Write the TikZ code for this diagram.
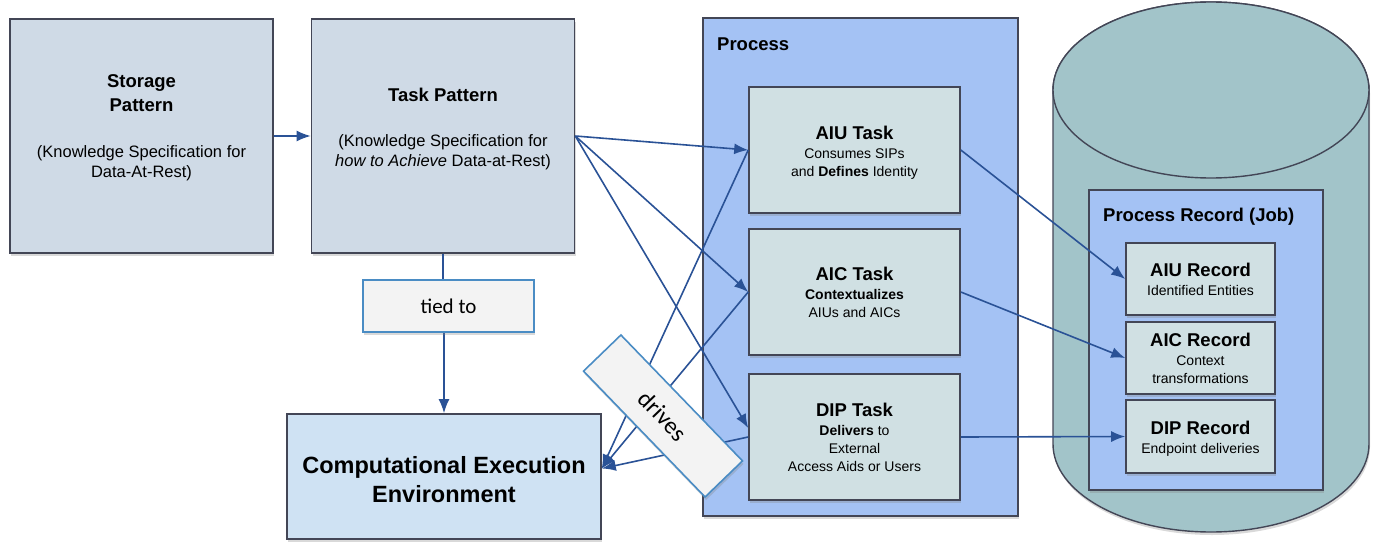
\documentclass[tikz,border=0pt]{standalone}
\usepackage{fontspec}
\setmainfont{Liberation Sans}
\newfontfamily\calfont{Carlito}
\usetikzlibrary{arrows.meta,shadows}

\definecolor{patfill}{HTML}{CFDAE6}
\definecolor{ceefill}{HTML}{CFE2F3}
\definecolor{procfill}{HTML}{A4C2F4}
\definecolor{taskfill}{HTML}{D0E0E3}
\definecolor{cylfill}{HTML}{A2C4C9}
\definecolor{tagfill}{HTML}{F3F3F3}
\definecolor{tagline}{HTML}{4A8CC4}
\definecolor{rand}{HTML}{434656}
\definecolor{pfeil}{HTML}{2A5296}

\newcommand{\boxtitle}{\fontsize{18.5}{24}\selectfont\bfseries}

\begin{document}
\begin{tikzpicture}[x=1pt, y=1pt,
    box/.style={draw=rand, line width=1.6, inner sep=0pt, align=center,
      drop shadow={shadow xshift=1pt, shadow yshift=-3pt, opacity=.3}},
    patbox/.style={box, fill=patfill, minimum width=263, minimum height=234, font=\fontsize{16.5}{20}\selectfont},
    taskbox/.style={box, fill=taskfill, minimum width=211, minimum height=126, font=\fontsize{14}{18}\selectfont},
    recbox/.style={box, fill=taskfill, minimum width=149, minimum height=72, font=\fontsize{14}{18}\selectfont},
    tag/.style={draw=tagline, line width=1.6, fill=tagfill, inner sep=0pt, font=\calfont\fontsize{21}{25}\selectfont,
      drop shadow={shadow xshift=1pt, shadow yshift=-3pt, opacity=.3}},
    link/.style={draw=pfeil, line width=1.6},
    >={Latex[length=14pt,width=11pt]},   %Pfeilspitzen
    ]
    \useasboundingbox (0,0) rectangle (1374,-546);
    %Zylinder zeichnen
    \path[fill=cylfill, draw=rand, line width=1.4, drop shadow={shadow xshift=1pt, shadow yshift=-3pt, opacity=.3}]
      (1053,-90) -- (1053,-444) arc[start angle=180, end angle=360, x radius=158, y radius=88]
      -- (1369,-90) arc[start angle=0, end angle=180, x radius=158, y radius=88] -- cycle;
    \draw[fill=cylfill, draw=rand, line width=1.4] (1211,-90) ellipse [x radius=158, y radius=88];
    % Container
    \node[box, fill=procfill, minimum width=315, minimum height=498] (process) at (860.5,-267) {};
    \node[anchor=west, inner sep=0pt, font=\boxtitle] (proclabel) at (717,-44) {Process};
    \node[box, fill=procfill, minimum width=234, minimum height=300] (procrec) at (1206,-340) {};
    \node[anchor=west, inner sep=0pt, font=\boxtitle] (reclabel) at (1103,-216.5) {Process Record (Job)};
    % Muster
    \node[patbox] (storage) at (141.5,-136) {{\boxtitle Storage}\\[4pt]{\boxtitle Pattern}\\[26pt](Knowledge Specification for\\Data-At-Rest)\rule[-20pt]{0pt}{0pt}};
    \node[patbox] (taskpat) at (443,-136) {{\boxtitle Task Pattern}\\[25pt](Knowledge Specification for\\\textit{how to Achieve} Data-at-Rest)\rule[-18pt]{0pt}{0pt}};
    \node[box, fill=ceefill, minimum width=314, minimum height=125, font=\fontsize{23.5}{29}\selectfont\bfseries] (cee) at (444,-476.5)
      {\rule{0pt}{23pt}Computational Execution\\Environment};
    % Tasks
    \node[taskbox] (task-aiu) at (854.5,-150) {{\boxtitle AIU Task}\rule{0pt}{19.5pt}\\[1pt]Consumes SIPs\\and \textbf{Defines} Identity};
    \node[taskbox] (task-aic) at (854.5,-292) {{\boxtitle AIC Task}\\[1pt]\textbf{Contextualizes}\\AIUs and AICs};
    \node[taskbox] (task-dip) at (854.5,-437) {{\boxtitle DIP Task}\\[1pt]\textbf{Delivers} to\\External\\Access Aids or Users};
    % Records
    \node[recbox] (rec-aiu) at (1200.5,-279) {{\boxtitle AIU Record}\\[1pt]Identified Entities};
    \node[recbox] (rec-aic) at (1200.5,-358) {{\boxtitle AIC Record}\\[1pt]Context\\transformations};
    \node[recbox, minimum height=73] (rec-dip) at (1200.5,-436.5) {{\boxtitle DIP Record}\rule{0pt}{17.5pt}\\[1pt]Endpoint deliveries};
    % Pfeile
    \coordinate (ceein) at ([yshift=8]cee.east);
    \draw[link,->] (storage) -- (taskpat);
    \draw[link] (taskpat.south) -- (taskpat.south |- 0,-280);
    \draw[link,->] (cee.north |- 0,-332) -- (cee.north);
    \foreach \n/\s in {aiu/0,aic/0,dip/9} \draw[link,->] (taskpat.east) -- ([yshift=\s]task-\n.west);
    \foreach \n in {aiu,aic,dip} \draw[link,->] (task-\n.west) -- (ceein);
    \foreach \n in {aiu,aic,dip} \draw[link,->] (task-\n.east) -- (rec-\n.west);
    % Beschriftung
    \node[tag, minimum width=171, minimum height=52] (tied) at (448.5,-306) {tied to};
    \node[tag, minimum width=175, minimum height=52, rotate=-46, font=\calfont\fontsize{24}{28}\selectfont] (drives) at (663,-416) {drives};
\end{tikzpicture}
\end{document}
